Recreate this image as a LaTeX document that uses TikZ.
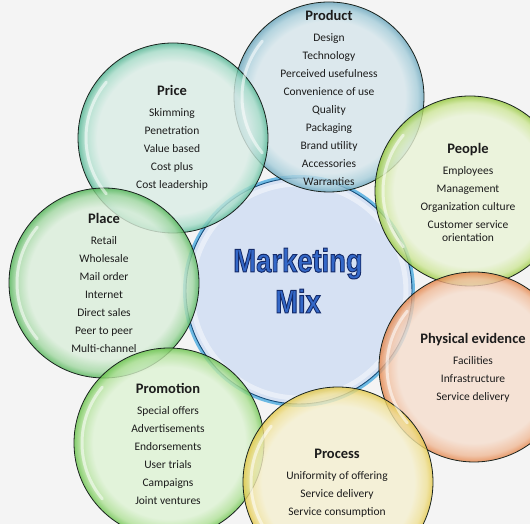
\documentclass[tikz,border=0pt]{standalone}
\usepackage{fontspec}
\setmainfont{Carlito}
\newfontfamily\mmfont{Liberation Sans}
\definecolor{bgcol}{RGB}{244,244,244}
\definecolor{textcol}{RGB}{28,28,28}
\definecolor{edgeline}{RGB}{25,35,30}
\definecolor{centerfill}{RGB}{214,225,243}
\definecolor{centerglow}{RGB}{85,175,225}
\definecolor{centerdark}{RGB}{25,80,125}
\definecolor{mmblue}{RGB}{52,104,200}
\definecolor{mmdark}{RGB}{20,42,105}
\definecolor{prodin}{RGB}{214,230,236}\definecolor{prodmid}{RGB}{165,205,218}\definecolor{prodout}{RGB}{105,165,188}
\definecolor{pricein}{RGB}{218,237,230}\definecolor{pricemid}{RGB}{165,220,200}\definecolor{priceout}{RGB}{80,180,145}
\definecolor{peoplein}{RGB}{233,243,214}\definecolor{peoplemid}{RGB}{205,230,150}\definecolor{peopleout}{RGB}{150,200,60}
\definecolor{placein}{RGB}{218,238,218}\definecolor{placemid}{RGB}{160,215,160}\definecolor{placeout}{RGB}{80,180,85}
\definecolor{physin}{RGB}{246,222,206}\definecolor{physmid}{RGB}{240,185,150}\definecolor{physout}{RGB}{228,130,70}
\definecolor{promoin}{RGB}{222,243,212}\definecolor{promomid}{RGB}{175,225,150}\definecolor{promoout}{RGB}{105,195,75}
\definecolor{procin}{RGB}{245,240,208}\definecolor{procmid}{RGB}{240,225,150}\definecolor{procout}{RGB}{228,200,70}
\colorlet{glowin}{white}
\colorlet{glowmid}{gray}
\colorlet{glowout}{black}
\pgfdeclareradialshading[glowin,glowmid,glowout]{edgeglow}{\pgfpointorigin}{color(0bp)=(glowin); color(20bp)=(glowin); color(23.3bp)=(glowmid); color(25bp)=(glowout); color(50bp)=(glowout)}
\newcommand\ttl[1]{{\fontsize{14.5}{18}\selectfont\bfseries #1}}
\newcommand\mmword[1]{\scalebox{0.83}[1]{\special{pdf:literal direct 2 Tr 1 w 0.078 0.165 0.41 RG}#1\special{pdf:literal direct 0 Tr}}}
\tikzset{
  ring/.style n args={3}{circle, minimum size=190pt, inner sep=0pt, draw=edgeline, line width=0.8pt,
    fill opacity=0.8, /utils/exec={\colorlet{glowin}{#1}\colorlet{glowmid}{#2}\colorlet{glowout}{#3}},
    shade, shading=edgeglow},
  shine/.style={white, line width=3pt, opacity=0.55, line cap=round},
  txt/.style={align=center, font=\fontsize{11.5}{18}\selectfont, text=textcol, inner sep=0pt},
  mmtxt/.style={anchor=base, inner sep=0pt, text=mmblue, font=\mmfont\bfseries\fontsize{33}{33}\selectfont}
}
\begin{document}
\begin{tikzpicture}[x=1pt,y=1pt]
\fill[bgcol] (0,0) rectangle (530,524);
\clip (0,0) rectangle (530,524);
% centre circle
\node[circle, minimum size=226pt, inner sep=0pt, fill=centerfill] (mix) at (299,233) {};
\draw[white, line width=5pt, opacity=0.45] (mix.center) circle (107pt);
\draw[centerglow, line width=3pt, opacity=0.85] (mix.center) circle (114.5pt);
\draw[centerdark, line width=0.9pt] (mix.center) circle (113pt);
% outer circles
\node[ring={prodin}{prodmid}{prodout}] (product) at (329,427) {};
\node[ring={pricein}{pricemid}{priceout}] (price) at (173,386) {};
\node[ring={peoplein}{peoplemid}{peopleout}] (people) at (470,333) {};
\node[ring={placein}{placemid}{placeout}] (place) at (104,241) {};
\node[ring={physin}{physmid}{physout}] (physical) at (474,157) {};
\node[ring={promoin}{promomid}{promoout}] (promotion) at (169,81) {};
\node[ring={procin}{procmid}{procout}] (process) at (338,42) {};
% shine
\foreach \c in {product,price,people,place,physical,promotion,process}{
  \draw[shine] ([shift={(140:87pt)}]\c.center) arc[start angle=140, end angle=220, radius=87pt];
}
% texts
\node[txt] (producttxt) at (329,426.5) {\ttl{Product}\\[3pt] Design\\ Technology\\ Perceived usefulness\\ Convenience of use\\ Quality\\ Packaging\\ Brand utility\\ Accessories\\ Warranties};
\node[txt] (pricetxt) at (172,386.5) {\ttl{Price}\\[3pt] Skimming\\ Penetration\\ Value based\\ Cost plus\\ Cost leadership};
\node[txt] (peopletxt) at (468,332) {\ttl{People}\\[3pt] Employees\\ Management\\ Organization culture\\ Customer service\\[-5pt] orientation};
\node[txt] (placetxt) at (104,241.5) {\ttl{Place}\\[3pt] Retail\\ Wholesale\\ Mail order\\ Internet\\ Direct sales\\ Peer to peer\\ Multi-channel};
\node[txt] (physicaltxt) at (473,156.5) {\ttl{Physical evidence}\\[3pt] Facilities\\ Infrastructure\\ Service delivery};
\node[txt] (promotiontxt) at (168,80.5) {\ttl{Promotion}\\[3pt] Special offers\\ Advertisements\\ Endorsements\\ User trials\\ Campaigns\\ Joint ventures};
\node[txt] (processtxt) at (337,40.5) {\ttl{Process}\\[3pt] Uniformity of offering\\ Service delivery\\ Service consumption};
\node[mmtxt] (mm1) at (298,252) {\mmword{Marketing}};
\node[mmtxt] (mm2) at (298,211) {\mmword{Mix}};
\end{tikzpicture}
\end{document}
